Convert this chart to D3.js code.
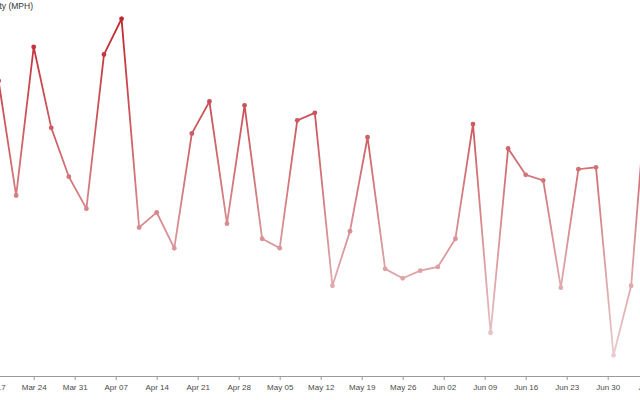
<!DOCTYPE html>
<html>
<head>
<meta charset="utf-8">
<script src="https://cdn.jsdelivr.net/npm/d3@7"></script>
<style>
  html, body { margin: 0; padding: 0; background: #fff; }
  svg { display: block; font-family: "Open Sans", sans-serif; }
</style>
</head>
<body>
<svg id="chart" width="640" height="400"></svg>
<script>
const dates = ["2013-03-18","2013-03-21","2013-03-24","2013-03-27","2013-03-30","2013-04-02","2013-04-05","2013-04-08","2013-04-11","2013-04-14","2013-04-17","2013-04-20","2013-04-23","2013-04-26","2013-04-29","2013-05-02","2013-05-05","2013-05-08","2013-05-11","2013-05-14","2013-05-17","2013-05-20","2013-05-23","2013-05-26","2013-05-29","2013-06-01","2013-06-04","2013-06-07","2013-06-10","2013-06-13","2013-06-16","2013-06-19","2013-06-22","2013-06-25","2013-06-28","2013-07-01","2013-07-04","2013-07-07"];
const speeds = [15.7, 9.6, 17.5, 13.2, 10.6, 8.9, 17.1, 19.0, 7.9, 8.7, 6.8, 12.9, 14.6, 8.1, 14.4, 7.3, 6.8, 13.6, 14.0, 4.8, 7.7, 12.7, 5.7, 5.2, 5.6, 5.8, 7.3, 13.4, 2.3, 12.1, 10.7, 10.4, 4.7, 11.0, 11.1, 1.1, 4.8, 16.5];
const yTitle = "Wind Velocity (MPH)";

const parse = d3.timeParse("%Y-%m-%d");
const data = dates.map((d, i) => ({ date: parse(d), value: speeds[i] }));

const svg = d3.select("#chart");
const x = d3.scaleTime()
  .domain([parse("2013-03-24"), parse("2013-06-30")])
  .range([33.7, 607.7]);
const y = d3.scaleLinear().domain([0, 20]).range([376, 0]);

const lowC = "#e9d6d8", highC = "#c0262d";
const color = d3.scaleLinear().domain([0, 19]).range([lowC, highC]).interpolate(d3.interpolateRgb);

// axis (extended beyond the visible window)
const xDomainFull = [new Date(2013, 2, 10), new Date(2013, 6, 12)];
const xFull = x.copy().domain(xDomainFull).range([x(xDomainFull[0]), x(xDomainFull[1])]);
const axis = d3.axisBottom(xFull)
  .ticks(d3.timeSunday.every(1))
  .tickFormat(d3.timeFormat("%b %d"))
  .tickSize(4)
  .tickSizeOuter(0);
const gx = svg.append("g").attr("transform", "translate(0,376)").call(axis);
gx.select(".domain").attr("stroke", "#999");
gx.selectAll(".tick line").attr("stroke", "#999");
gx.selectAll(".tick text").attr("fill", "#4a4a4a").attr("font-size", 8).attr("dy", "0.85em");

// gradient
const defs = svg.append("defs");
const grad = defs.append("linearGradient")
  .attr("id", "lineGrad").attr("gradientUnits", "userSpaceOnUse")
  .attr("x1", 0).attr("x2", 0).attr("y1", y(19)).attr("y2", y(0));
grad.append("stop").attr("offset", "0%").attr("stop-color", highC);
grad.append("stop").attr("offset", "100%").attr("stop-color", lowC);

const line = d3.line().x(d => x(d.date)).y(d => y(d.value));
svg.append("path").datum(data)
  .attr("fill", "none")
  .attr("stroke", "url(#lineGrad)")
  .attr("stroke-width", 1.8)
  .attr("d", line);

svg.append("g").selectAll("circle").data(data).join("circle")
  .attr("cx", d => x(d.date))
  .attr("cy", d => y(d.value))
  .attr("r", 2.4)
  .attr("fill", d => color(d.value));

svg.append("text")
  .attr("x", 33).attr("y", 9)
  .attr("text-anchor", "end")
  .attr("font-family", "'Liberation Sans', Arial, sans-serif")
  .attr("font-size", 8.5)
  .attr("fill", "#333")
  .text(yTitle);
</script>
</body>
</html>
